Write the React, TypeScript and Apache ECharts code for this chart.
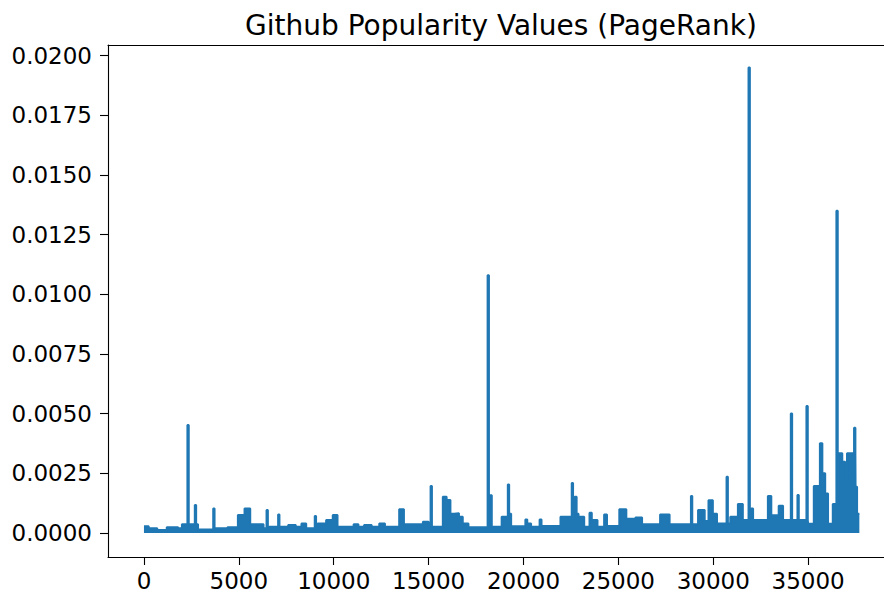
import React, { useEffect, useRef } from "react";
import * as echarts from "echarts";

// Upper envelope of the dense PageRank line (node index -> value)
const envelopeIndex = [
  0, 250, 700, 1200, 1800, 2000, 2450, 2850, 3750, 4400, 4950, 5300, 5600, 6300,
  6600, 7300, 7600, 8000, 8300, 8550, 9150, 9600, 9950, 10200, 11050, 11300, 11600,
  12000, 12400, 12700, 13450, 13700, 14700, 15000, 15200, 15750, 15950, 16150, 16350,
  16600, 16800, 17100, 18180, 18330, 18850, 19250, 19350, 20100, 20200, 20400, 20850,
  20950, 21950, 22700, 22800, 22900, 23200, 23480, 23600, 23900, 24250, 24400, 25050,
  25420, 25900, 26250, 27200, 27700, 29200, 29550, 29750, 29980, 30200, 30900, 31300,
  31560, 32000, 32100, 32880, 33060, 33450, 33680, 34150, 34600, 35000, 35300, 35620,
  35750, 35900, 36050, 36300, 36600, 36800, 36950, 37050, 37500, 37580, 37700,
];
const envelopeValue = [
  0.00028, 0.0002, 0.00013, 0.00024, 0.0002, 0.00037, 0.00037, 0.00015, 0.0002, 0.00024,
  0.00075, 0.00103, 0.00037, 0.0002, 0.00026, 0.00026, 0.00034, 0.00026, 0.0004, 0.0002,
  0.0004, 0.00054, 0.00075, 0.00026, 0.00037, 0.00026, 0.00034, 0.00026, 0.0004, 0.00026,
  0.00099, 0.00037, 0.00047, 0.00026, 0.00026, 0.00152, 0.00138, 0.00081, 0.00083,
  0.00068, 0.0004, 0.00024, 0.00158, 0.00026, 0.00068, 0.00081, 0.00028, 0.00057, 0.0004,
  0.00026, 0.00057, 0.00029, 0.00068, 0.00152, 0.00081, 0.00068, 0.00026, 0.00085,
  0.00054, 0.00026, 0.00078, 0.00029, 0.00099, 0.0006, 0.00065, 0.00037, 0.00078,
  0.00037, 0.00096, 0.0005, 0.00137, 0.00081, 0.0004, 0.00068, 0.00122, 0.00054, 0.00103,
  0.00054, 0.00155, 0.00074, 0.00114, 0.00054, 0.00054, 0.00054, 0.00039, 0.00197,
  0.00376, 0.0025, 0.00166, 0.00039, 0.00121, 0.00334, 0.00299, 0.00222, 0.00334,
  0.00194, 0.00081, 0.00081,
];

// Isolated narrow peaks
const spikeIndex = [
  2290, 2680, 3650, 6460, 7070, 9000, 15105, 18110, 19175, 22543, 28825, 30702, 31860,
  34088, 34438, 34912, 36491, 37421,
];
const spikeValue = [
  0.00452, 0.00117, 0.00103, 0.00096, 0.00078, 0.00071, 0.00197, 0.0108, 0.00203, 0.0021,
  0.00155, 0.00236, 0.0195, 0.00501, 0.00159, 0.00532, 0.0135, 0.00441,
];

const xTicks = [0, 5000, 10000, 15000, 20000, 25000, 30000, 35000];
const yTicks = [0, 0.0025, 0.005, 0.0075, 0.01, 0.0125, 0.015, 0.0175, 0.02];

const SPIKE_WIDTH = 70;

function buildSeries(): number[][] {
  const pts: number[][] = [];
  let si = 0;
  for (let i = 0; i < envelopeIndex.length; i++) {
    while (si < spikeIndex.length && spikeIndex[si] < envelopeIndex[i]) {
      const base = envelopeValue[Math.max(0, i - 1)];
      pts.push([spikeIndex[si], spikeValue[si]]);
      pts.push([spikeIndex[si] + SPIKE_WIDTH, base]);
      si++;
    }
    pts.push([envelopeIndex[i], envelopeValue[i]]);
  }
  return pts;
}

const FONT = "DejaVu Sans";
const X_MIN = -1895;
const X_MAX = 38999;

export default function App() {
  const ref = useRef<HTMLDivElement>(null);
  useEffect(() => {
    if (!ref.current) return;
    const chart = echarts.init(ref.current, undefined, { renderer: "svg" });
    const spine = { show: true, onZero: false, lineStyle: { color: "#000", width: 1.1 } };
    chart.setOption({
      animation: false,
      backgroundColor: "#ffffff",
      title: {
        text: "Github Popularity Values (PageRank)",
        left: 496,
        top: 6,
        textAlign: "center",
        textStyle: {
          fontFamily: FONT,
          fontSize: 28,
          fontWeight: "normal",
          color: "#000",
        },
      },
      grid: {
        left: 108,
        top: 45,
        width: 777,
        height: 512,
        show: false,
      },
      xAxis: [
        {
          type: "value",
          position: "bottom",
          min: X_MIN,
          max: X_MAX,
          splitLine: { show: false },
          axisLine: spine,
          axisTick: {
            show: true,
            length: 8,
            customValues: xTicks,
            lineStyle: { color: "#000", width: 1.1 },
          },
          axisLabel: {
            customValues: xTicks,
            margin: 12,
            fontFamily: FONT,
            fontSize: 23,
            color: "#000",
            formatter: (v: number) => String(v),
          },
        },
        {
          type: "value",
          position: "top",
          min: X_MIN,
          max: X_MAX,
          splitLine: { show: false },
          axisLine: spine,
          axisTick: { show: false },
          axisLabel: { show: false },
        },
      ],
      yAxis: {
        type: "value",
        min: -0.001006,
        max: 0.020448,
        splitLine: { show: false },
        axisLine: spine,
        axisTick: {
          show: true,
          length: 8,
          customValues: yTicks,
          lineStyle: { color: "#000", width: 1.1 },
        },
        axisLabel: {
          customValues: yTicks,
          margin: 16,
          fontFamily: FONT,
          fontSize: 23,
          color: "#000",
          formatter: (v: number) => v.toFixed(4),
        },
      },
      series: [
        {
          type: "line",
          step: "end",
          xAxisIndex: 0,
          data: buildSeries(),
          showSymbol: false,
          symbol: "none",
          lineStyle: { color: "#1f77b4", width: 2 },
          areaStyle: { color: "#1f77b4", opacity: 1, origin: "auto" },
          itemStyle: { color: "#1f77b4" },
          clip: true,
        },
      ],
    });
    return () => chart.dispose();
  }, []);
  return (
    <div
      ref={ref}
      style={{ position: "fixed", left: 0, top: 0, width: 884, height: 597 }}
    />
  );
}
